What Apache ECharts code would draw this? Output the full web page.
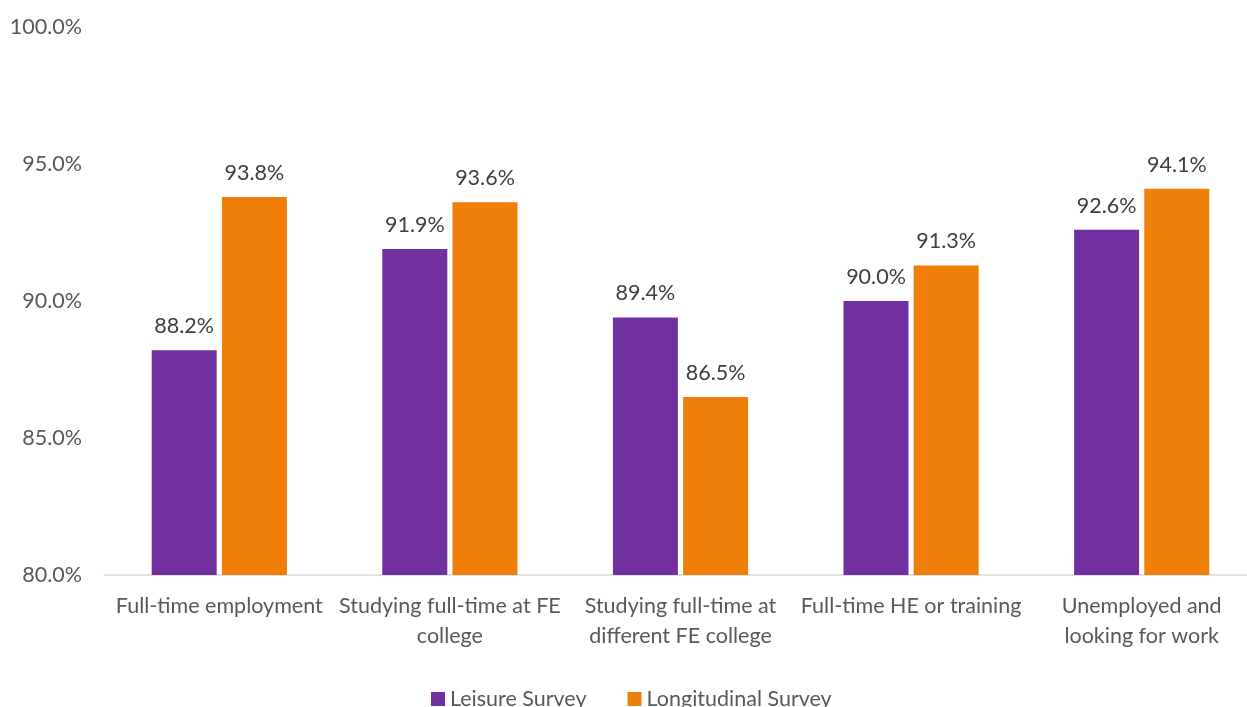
<!DOCTYPE html>
<html>
<head>
<meta charset="utf-8">
<script src="https://cdn.jsdelivr.net/npm/echarts@6/dist/echarts.min.js"></script>
<style>
  html, body { margin: 0; padding: 0; background: #fff; }
  #chart { width: 1247px; height: 707px; }
</style>
</head>
<body>
<div id="chart"></div>
<script>
const categories = [
  'Full-time employment',
  'Studying full-time at FE\ncollege',
  'Studying full-time at\ndifferent FE college',
  'Full-time HE or training',
  'Unemployed and\nlooking for work'
]
const leisure = [88.2, 91.9, 89.4, 90.0, 92.6]
const longitudinal = [93.8, 93.6, 86.5, 91.3, 94.1]

const font = 'Lato, "Open Sans", sans-serif'
const textColor = '#595959'

let chart = echarts.init(document.getElementById('chart'))

let labelOpt = {
  show: true,
  position: 'top',
  distance: 13,
  color: '#404040',
  fontFamily: font,
  fontSize: 21.5,
  formatter: (p) => p.value.toFixed(1) + '%'
}

chart.setOption({
  animation: false,
  grid: { left: 104, right: -10, top: 27, bottom: 132, outerBoundsMode: 'none' },
  legend: {
    bottom: -8,
    left: 426,
    itemWidth: 14,
    itemHeight: 14,
    itemGap: 41,
    icon: 'rect',
    textStyle: { color: textColor, fontFamily: font, fontSize: 21.5 },
    data: ['Leisure Survey', 'Longitudinal Survey']
  },
  xAxis: {
    type: 'category',
    data: categories,
    axisLine: { lineStyle: { color: '#d9d9d9', width: 1.5 } },
    axisTick: { show: false },
    axisLabel: {
      color: textColor,
      fontFamily: font,
      fontSize: 21.5,
      lineHeight: 30,
      margin: 16,
      interval: 0
    }
  },
  yAxis: {
    type: 'value',
    min: 80,
    max: 100,
    interval: 5,
    splitLine: { show: false },
    axisLine: { show: false },
    axisLabel: {
      color: textColor,
      fontFamily: font,
      fontSize: 21.5,
      margin: 22,
      formatter: (v) => v.toFixed(1) + '%'
    }
  },
  series: [
    {
      name: 'Leisure Survey',
      type: 'bar',
      data: leisure,
      barWidth: 65,
      barGap: '8%',
      itemStyle: { color: '#7030A0' },
      label: labelOpt
    },
    {
      name: 'Longitudinal Survey',
      type: 'bar',
      data: longitudinal,
      barWidth: 65,
      itemStyle: { color: '#F07F09' },
      label: labelOpt
    }
  ]
})
</script>
</body>
</html>
